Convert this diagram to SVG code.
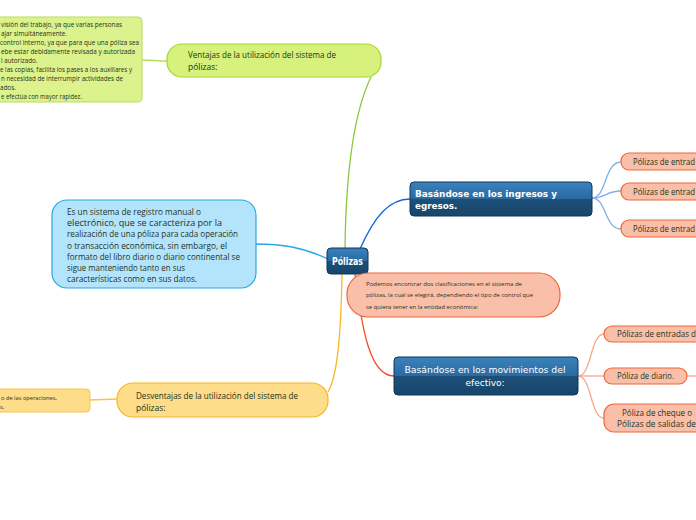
<svg xmlns="http://www.w3.org/2000/svg" width="696" height="520" viewBox="0 0 696 520">
<defs>
<linearGradient id="dk" x1="0" y1="0" x2="0" y2="1">
<stop offset="0" stop-color="#3a82bc"/>
<stop offset="0.5" stop-color="#2a6aa2"/>
<stop offset="0.5" stop-color="#1d5079"/>
<stop offset="1" stop-color="#17456b"/>
</linearGradient>
<style>
.dk{fill:url(#dk);stroke:#10365a;stroke-width:1}
.gr{fill:#d6f27c;stroke:#a6d332;stroke-width:1.2}
.gd{fill:#dcf28c;stroke:#b9dd58;stroke-width:1}
.ye{fill:#fddc8a;stroke:#f5b921;stroke-width:1.2}
.yd{fill:#fddc8a;stroke:#f7c547;stroke-width:1}
.bl{fill:#b3e4fb;stroke:#2aa6df;stroke-width:1.2}
.sa{fill:#f9bfa8;stroke:#f0663a;stroke-width:1.2}
.t{font-family:"Open Sans","Noto Sans",sans-serif;fill:#25331a}
.tw{font-family:"DejaVu Sans",Verdana,sans-serif;fill:#ffffff}
.c{fill:none;stroke-width:1.3}
</style>
</defs>
<g id="connectors">
<path class="c" stroke="#8cc63f" d="M345,248 C346,170 355,110 371,77"/>
<path class="c" stroke="#b9dd58" stroke-width="1" d="M142,60 C152,60 158,61 168,61"/>
<path class="c" stroke="#29a8e0" d="M328,259 C302,247 282,244 256,244"/>
<path class="c" stroke="#f5b921" d="M342,274 C341,330 338,375 328,392"/>
<path class="c" stroke="#f7c547" stroke-width="1" d="M90,400 C100,400 106,399 117,399"/>
<path class="c" stroke="#1565d8" d="M360,249 C375,215 390,199 410,199"/>
<path class="c" stroke="#f04e23" d="M355,274 C362,330 370,376 394,376"/>
<path class="c" stroke="#7fb0ee" stroke-width="1" d="M592,198 C607,198 604,162 621,162"/>
<path class="c" stroke="#7fb0ee" stroke-width="1" d="M592,198 C607,198 605,191 621,191"/>
<path class="c" stroke="#7fb0ee" stroke-width="1" d="M592,198 C607,198 604,229 621,229"/>
<path class="c" stroke="#f6a88c" stroke-width="1" d="M578,376 C592,376 590,334 604,334"/>
<path class="c" stroke="#f6a88c" stroke-width="1" d="M578,376 L604,376"/>
<path class="c" stroke="#f6a88c" stroke-width="1" d="M578,376 C592,376 590,418 604,418"/>
<path class="c" stroke="#f6a88c" stroke-width="1" d="M687,376 L696,376"/>
</g>
<g id="polizas">
<rect class="dk" x="327" y="248" width="41" height="26" rx="4"/>
<text class="tw" x="347.5" y="265" font-size="10.5" font-weight="bold" text-anchor="middle" textLength="31" lengthAdjust="spacingAndGlyphs">Pólizas</text>
</g>
<g id="ventajas">
<rect class="gr" x="167" y="44" width="214" height="33" rx="15"/>
<text class="t" font-size="8.5"><tspan x="188" y="58" textLength="148" lengthAdjust="spacingAndGlyphs">Ventajas de la utilización del sistema de</tspan><tspan x="188" y="70">pólizas:</tspan></text>
</g>
<g id="ventajas-detalle">
<rect class="gd" x="-5" y="17" width="147" height="85" rx="4"/>
<text class="t" font-size="6.3">
<tspan x="1" y="27.3" textLength="121" lengthAdjust="spacingAndGlyphs">visión del trabajo, ya que varias personas</tspan>
<tspan x="1" y="36.2">ajar simultáneamente.</tspan>
<tspan x="0" y="45.1" textLength="139" lengthAdjust="spacingAndGlyphs">control interno, ya que para que una póliza sea</tspan>
<tspan x="1" y="54" textLength="134" lengthAdjust="spacingAndGlyphs">ebe estar debidamente revisada y autorizada</tspan>
<tspan x="1" y="62.9">l autorizado.</tspan>
<tspan x="0" y="71.8" textLength="132" lengthAdjust="spacingAndGlyphs">e las copias, facilita los pases a los auxiliares y</tspan>
<tspan x="1" y="80.7" textLength="122" lengthAdjust="spacingAndGlyphs">n necesidad de interrumpir actividades de</tspan>
<tspan x="0" y="89.6">ados.</tspan>
<tspan x="1" y="98.5" textLength="81" lengthAdjust="spacingAndGlyphs">e efectúa con mayor rapidez.</tspan>
</text>
</g>
<g id="definicion">
<rect class="bl" x="52" y="200" width="204" height="88" rx="15"/>
<text class="t" font-size="8.3" fill="#1c2b36">
<tspan x="67" y="215" textLength="134" lengthAdjust="spacingAndGlyphs">Es un sistema de registro manual o</tspan>
<tspan x="67" y="226.2" textLength="155" lengthAdjust="spacingAndGlyphs">electrónico, que se caracteriza por la</tspan>
<tspan x="67" y="237.4" textLength="171" lengthAdjust="spacingAndGlyphs">realización de una póliza para cada operación</tspan>
<tspan x="67" y="248.6" textLength="160" lengthAdjust="spacingAndGlyphs">o transacción económica, sin embargo, el</tspan>
<tspan x="67" y="259.8" textLength="173" lengthAdjust="spacingAndGlyphs">formato del libro diario o diario continental se</tspan>
<tspan x="67" y="271" textLength="118" lengthAdjust="spacingAndGlyphs">sigue manteniendo tanto en sus</tspan>
<tspan x="67" y="282.2" textLength="130" lengthAdjust="spacingAndGlyphs">características como en sus datos.</tspan>
</text>
</g>
<g id="desventajas">
<rect class="ye" x="117" y="383" width="211" height="34" rx="16"/>
<text class="t" font-size="8.5"><tspan x="136" y="399" textLength="162" lengthAdjust="spacingAndGlyphs">Desventajas de la utilización del sistema de</tspan><tspan x="136" y="410.5">pólizas:</tspan></text>
</g>
<g id="desventajas-detalle">
<rect class="yd" x="-5" y="389" width="95" height="23" rx="4"/>
<text class="t" font-size="6"><tspan x="1" y="400" textLength="56" lengthAdjust="spacingAndGlyphs">o de las operaciones,</tspan><tspan x="0" y="409">s.</tspan></text>
</g>
<g id="ingresos-egresos">
<rect class="dk" x="410" y="182" width="182" height="34" rx="4"/>
<text class="tw" font-size="8.8" font-weight="bold"><tspan x="415" y="197" textLength="142" lengthAdjust="spacingAndGlyphs">Basándose en los ingresos y</tspan><tspan x="415" y="208.5">egresos.</tspan></text>
</g>
<g id="movimientos">
<rect class="dk" x="394" y="357" width="184" height="38" rx="4"/>
<text class="tw" font-size="9" text-anchor="middle"><tspan x="485" y="373" textLength="161" lengthAdjust="spacingAndGlyphs">Basándose en los movimientos del</tspan><tspan x="485" y="386">efectivo:</tspan></text>
</g>
<g id="nota-clasificaciones">
<rect class="sa" x="347" y="273" width="213" height="44" rx="21"/>
<text class="t" font-size="5.8" fill="#3a2418">
<tspan x="366" y="286" textLength="156" lengthAdjust="spacingAndGlyphs">Podemos encontrar dos clasificaciones en el sistema de</tspan>
<tspan x="366" y="297" textLength="167" lengthAdjust="spacingAndGlyphs">pólizas, la cual se elegirá, dependiendo el tipo de control que</tspan>
<tspan x="366" y="308.5" textLength="112" lengthAdjust="spacingAndGlyphs">se quiera tener en la entidad económica:</tspan>
</text>
</g>
<g id="ie-1">
<rect class="sa" x="621" y="153" width="100" height="17" rx="8"/>
<text class="t" x="633" y="165" font-size="8.3" textLength="62" lengthAdjust="spacingAndGlyphs">Pólizas de entrad</text>
</g>
<g id="ie-2">
<rect class="sa" x="621" y="183" width="100" height="17" rx="8"/>
<text class="t" x="633" y="194.5" font-size="8.3" textLength="62" lengthAdjust="spacingAndGlyphs">Pólizas de entrad</text>
</g>
<g id="ie-3">
<rect class="sa" x="621" y="220" width="100" height="17" rx="8"/>
<text class="t" x="633" y="232" font-size="8.3" textLength="62" lengthAdjust="spacingAndGlyphs">Pólizas de entrad</text>
</g>
<g id="mov-1">
<rect class="sa" x="604" y="326" width="120" height="16" rx="8"/>
<text class="t" x="617" y="337" font-size="8.3" textLength="79" lengthAdjust="spacingAndGlyphs">Pólizas de entradas d</text>
</g>
<g id="mov-2">
<rect class="sa" x="604" y="368" width="83" height="16" rx="8"/>
<text class="t" x="617" y="379" font-size="8.3" textLength="57" lengthAdjust="spacingAndGlyphs">Póliza de diario.</text>
</g>
<g id="mov-3">
<rect class="sa" x="604" y="404" width="120" height="28" rx="10"/>
<text class="t" font-size="8.3"><tspan x="622" y="416" textLength="70" lengthAdjust="spacingAndGlyphs">Póliza de cheque o</tspan><tspan x="617" y="426.5" textLength="79" lengthAdjust="spacingAndGlyphs">Pólizas de salidas de</tspan></text>
</g>
</svg>
